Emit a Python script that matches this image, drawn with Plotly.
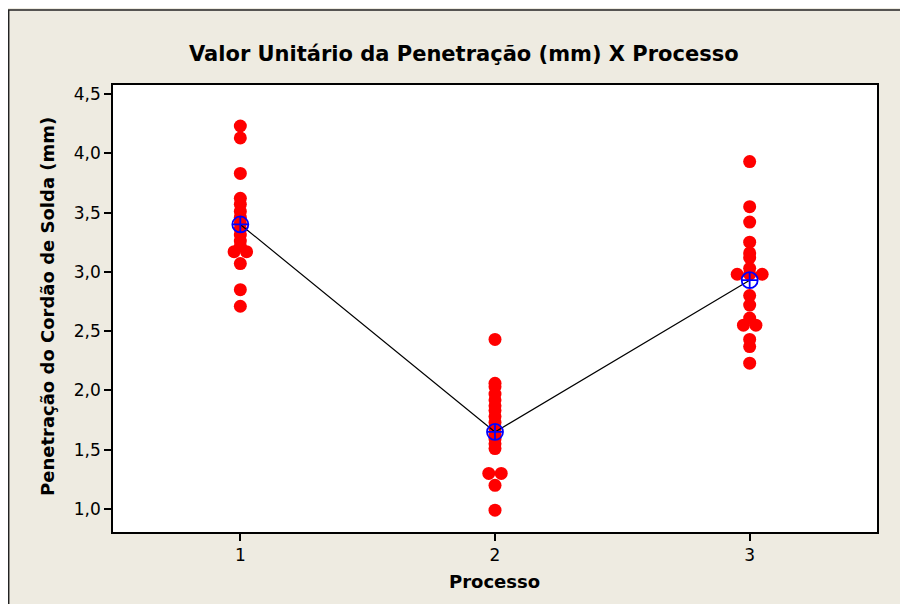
import plotly.graph_objects as go
from collections import Counter

# ---- data ----
processes = [1, 2, 3]
penetration_p1 = [4.23, 4.13, 3.83, 3.62, 3.57, 3.51, 3.46, 3.41, 3.36, 3.31, 3.26, 3.22,
                  3.17, 3.17, 3.07, 2.85, 2.71]
penetration_p2 = [2.43, 2.06, 2.03, 1.97, 1.92, 1.87, 1.83, 1.78, 1.73, 1.68, 1.63, 1.59,
                  1.55, 1.51, 1.30, 1.30, 1.20, 0.99]
penetration_p3 = [3.93, 3.55, 3.42, 3.25, 3.16, 3.12, 3.03, 2.98, 2.98, 2.98, 2.80, 2.72,
                  2.61, 2.55, 2.55, 2.43, 2.37, 2.23]
process_means = [3.40, 1.65, 2.93]
y_ticks = [1.0, 1.5, 2.0, 2.5, 3.0, 3.5, 4.0, 4.5]

groups = [penetration_p1, penetration_p2, penetration_p3]

# side-by-side placement of identical values (like Minitab)
spacing = 0.049
xs, ys = [], []
for proc, vals in zip(processes, groups):
    counts = Counter(vals)
    seen = Counter()
    for v in vals:
        n = counts[v]
        k = seen[v]
        seen[v] += 1
        xs.append(proc + (k - (n - 1) / 2) * spacing)
        ys.append(v)

BG = "#EEEBE1"
FONT = "DejaVu Sans"

# figure geometry (page body has an 8px margin)
W, H = 900, 596
L, R, T, B = 105, 31, 77, 72
PW, PH = W - L - R, H - T - B


def px(x):  # figure pixel x -> paper
    return (x - L) / PW


def py(y):  # figure pixel y -> paper
    return (H - B - y) / PH


fig = go.Figure()
fig.add_trace(go.Scatter(
    x=xs, y=ys, mode="markers",
    marker=dict(color="#FF0000", size=13, line=dict(width=0)),
    showlegend=False, hoverinfo="y"))
fig.add_trace(go.Scatter(
    x=processes, y=process_means, mode="lines+markers",
    line=dict(color="black", width=1.2),
    marker=dict(symbol="circle-cross-open", size=16, color="#0000FF",
                line=dict(width=1.8, color="#0000FF")),
    showlegend=False))

axis_common = dict(showline=True, linecolor="black", linewidth=1.5, mirror=True,
                   ticks="outside", ticklen=7, tickwidth=1.5, tickcolor="black",
                   showgrid=False, zeroline=False,
                   tickfont=dict(family=FONT, size=17, color="black"))

fig.update_layout(
    width=W, height=H,
    paper_bgcolor=BG, plot_bgcolor="white",
    margin=dict(l=L, r=R, t=T, b=B),
    separators=",.",
    font=dict(family=FONT, color="black"),
    xaxis=dict(range=[0.5, 3.5], tickvals=processes, ticktext=[str(p) for p in processes],
               **axis_common),
    yaxis=dict(range=[0.806, 4.576], tickvals=y_ticks, tickformat=".1f",
               **axis_common),
    annotations=[
        dict(text="<b>Valor Unitário da Penetração (mm) X Processo</b>",
             xref="paper", yref="paper", x=px(455.5), y=py(46),
             xanchor="center", yanchor="middle", showarrow=False,
             font=dict(family=FONT, size=21, color="black")),
        dict(text="<b>Penetração do Cordão de Solda (mm)</b>", textangle=-90,
             xref="paper", yref="paper", x=px(39), y=py(299),
             xanchor="center", yanchor="middle", showarrow=False,
             font=dict(family=FONT, size=18, color="black")),
        dict(text="<b>Processo</b>",
             xref="paper", yref="paper", x=px(486), y=py(573),
             xanchor="center", yanchor="middle", showarrow=False,
             font=dict(family=FONT, size=18, color="black")),
    ],
    shapes=[
        dict(type="line", xref="paper", yref="paper",
             x0=px(0), x1=px(W + 20), y0=py(2), y1=py(2),
             line=dict(color="#222222", width=1.5)),
        dict(type="line", xref="paper", yref="paper",
             x0=px(0.7), x1=px(0.7), y0=py(2), y1=py(H + 20),
             line=dict(color="#222222", width=1.5)),
    ],
)

fig.write_html("out.html")
